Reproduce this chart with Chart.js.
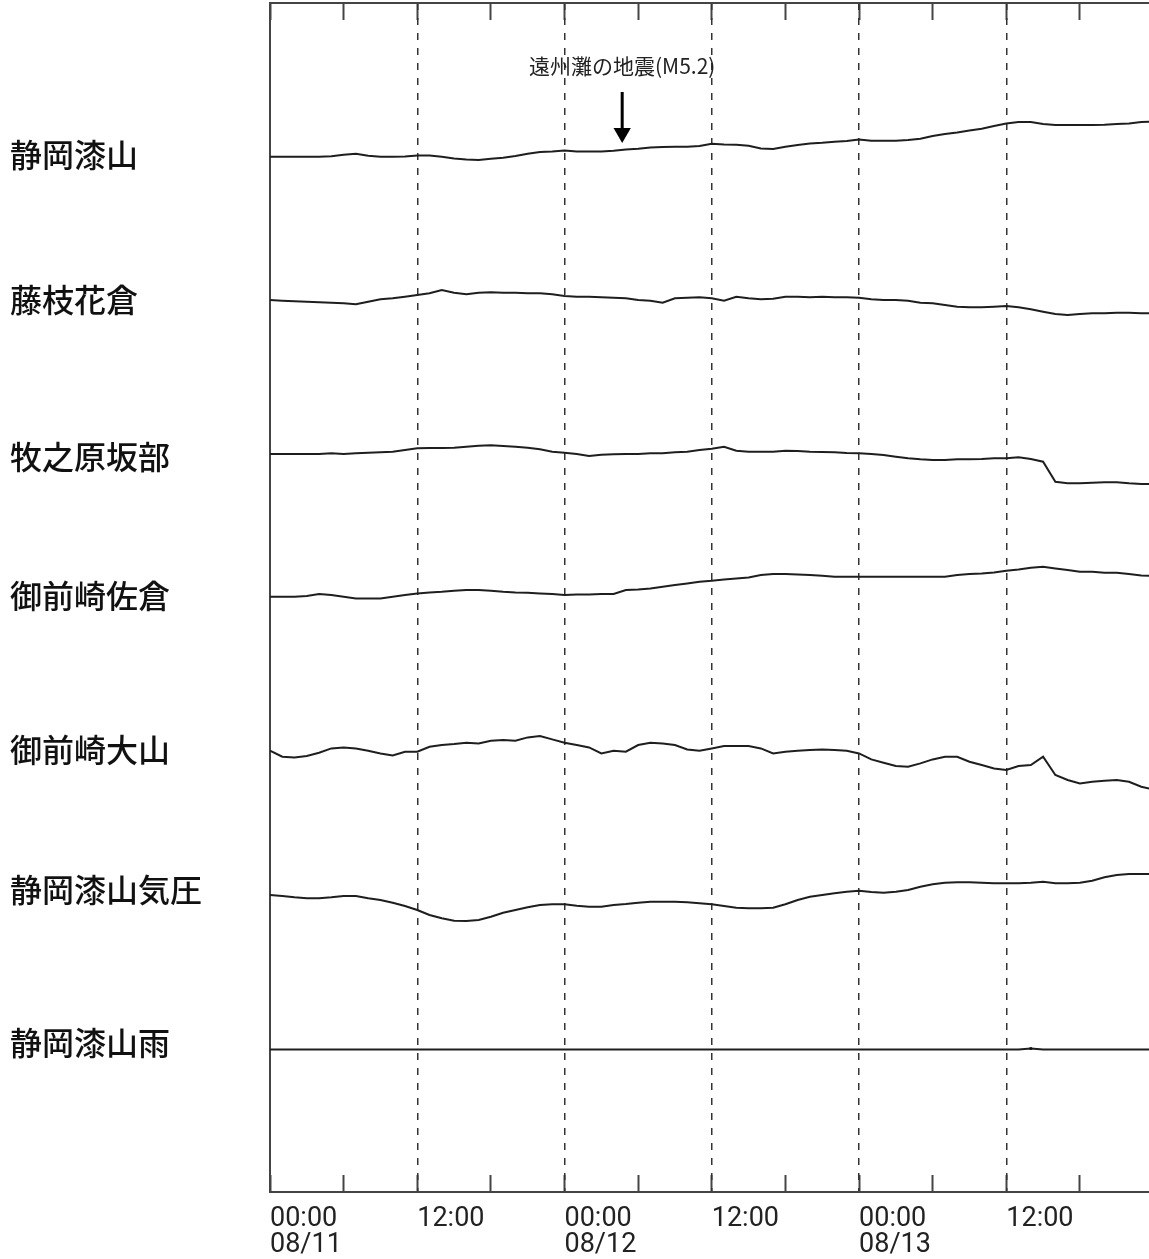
<!DOCTYPE html>
<html lang="ja">
<head>
<meta charset="UTF-8">
<title>ひずみ計 観測波形</title>
<script src="https://cdn.jsdelivr.net/npm/chart.js"></script>
<style>
  html, body { margin: 0; padding: 0; background: #fff; }
  .wrap { position: relative; width: 1149px; height: 1259px; }
</style>
</head>
<body>
<div class="wrap"><canvas id="strain"></canvas></div>
<script>
// hours since 08/11 00:00
const hours = [0,1,2,3,4,5,6,7,8,9,10,11,12,13,14,15,16,17,18,19,20,21,22,23,24,
  25,26,27,28,29,30,31,32,33,34,35,36,37,38,39,40,41,42,43,44,45,46,47,48,
  49,50,51,52,53,54,55,56,57,58,59,60,61,62,63,64,65,66,67,68,69,70,71,72];

const stations = ['静岡漆山', '藤枝花倉', '牧之原坂部', '御前崎佐倉', '御前崎大山', '静岡漆山気圧', '静岡漆山雨'];

// change from start of each trace (up = positive)
const shizuokaUrushiyama = [0,0,0,0,0,0.5,2,3,1,0,0,0.3,1.3,1.3,0,-1.7,-2.7,-3.3,-2,-1,0.7,3,4.7,5.3,6.3,
  5.3,5.3,5.3,6,7.3,8,9.3,9.7,10,10,10.7,13,12.3,12,11,8.3,7.7,10,11.7,13.3,14,15,15.7,17.3,
  16,16,16,16.7,18,20.7,22.7,24.3,26.3,28,30.7,33.3,34.7,34.7,32.7,31.7,31.7,31.7,31.7,32,32.7,33.3,34.7,35];
const fujiedaHanagura = [0,-0.7,-1.3,-1.7,-2.3,-2.7,-3.3,-4.3,-1.7,0.7,1.7,3.3,5,6.7,10,7.3,5.7,7.3,7.7,7.3,7.3,6.7,6.7,5.7,4,
  3.3,3.3,2.7,2.3,1.7,0,-0.7,-2.7,1.7,2.3,2.7,1.7,-0.7,3.3,1.7,0.7,1.3,3.3,3.3,2.7,3.3,2.7,2.7,2.3,
  0.7,0,0,-0.7,-2.7,-3.3,-5,-6.7,-7.3,-7.3,-6.7,-6,-7.3,-9.3,-11.7,-14,-15,-14,-13.3,-13.3,-12.7,-12.7,-13.3,-13.3];
const makinoharaSakabe = [0,0,0,0,0,0.7,0,0.7,1.3,1.7,2.3,4,5.7,6,6,6.3,7.3,8.3,8.7,8,7.3,6.3,4.7,2.3,1.3,
  0,-2,-0.7,-0.3,0,0,0.7,0.7,1.7,2.3,4,5.3,7.3,3.3,2.3,2.3,2.3,3.3,3,2.3,2,1.7,1,0.7,
  0,-1,-2.7,-4.3,-5.3,-6,-6,-5.3,-5.3,-5,-4.3,-4.3,-3.3,-5,-7.7,-27.7,-29.3,-29.3,-28.7,-28.3,-28.3,-29.3,-30,-30];
const omaezakiSakura = [0,0,0,0.7,2.7,1.7,0,-1.7,-1.7,-1.7,0,1.7,3.3,4.3,5,6,6.7,6.7,6,5,4.3,4,3.3,2.7,1.7,
  2.3,2.3,2.7,2.7,6.7,7.3,8.3,10,11.7,13.3,15,16,17.3,18.3,19.3,21.7,22.7,22.7,22.3,21.7,21,20,20,20,
  20,20,20,20,20,20,20,21.7,22.7,23.3,24.3,26,27.3,29,30,28.3,26.7,25,25,24,24,22.7,21.3,20.7];
const omaezakiOyama = [0,-6,-6.7,-5.3,-2,2.3,3.3,2.3,0,-2.7,-4.7,-1,-1,4,5.7,6.7,8,7.3,10,10.7,10,13.3,14.7,11.3,8,
  5.7,3.3,-2.7,0,-1,5.7,8,7.3,5.7,1.3,0,2.3,4.7,4.7,4.7,2.3,-2.7,-1,0,0.7,1.3,0.7,0,-2.7,
  -8.7,-12,-15.3,-16,-12.7,-8.7,-6,-6,-11,-14.3,-17.7,-19.3,-15.3,-14.3,-6,-24.3,-29.3,-32.7,-31,-30,-29.3,-31,-36,-38.7];
const shizuokaPressure = [0,-1,-2.3,-3.3,-3.3,-2.3,-1,-1,-3.3,-5,-7.7,-11,-15,-20,-23.3,-25.7,-26,-25,-21.7,-17.7,-15,-12.3,-10,-9.3,-9.3,
  -10.7,-11.7,-11.7,-10,-9,-7.7,-6.7,-6.7,-6.7,-7.3,-8.3,-9.3,-11,-12.7,-13.3,-13.3,-12.7,-9.3,-5,-1.7,0,1.7,3.3,4.3,
  3,2.3,3.3,5,8.3,10.7,12.3,12.7,12.7,12.3,11.7,11.7,11.7,12.3,13.3,11.7,11.7,12.3,14.3,17.7,20,21,21,21];
const shizuokaRain = [0,0,0,0,0,0,0,0,0,0,0,0,0,0,0,0,0,0,0,0,0,0,0,0,0,
  0,0,0,0,0,0,0,0,0,0,0,0,0,0,0,0,0,0,0,0,0,0,0,0,
  0,0,0,0,0,0,0,0,0,0,0,0,0,0.5,0,0,0,0,0,0,0,0,0,0];

// time axis
const tickHours = [0, 6, 12, 18, 24, 30, 36, 42, 48, 54, 60, 66];
const tickLabels = [['00:00', '08/11'], '', '12:00', '', ['00:00', '08/12'], '', '12:00', '', ['00:00', '08/13'], '', '12:00', ''];
const dashHours = [12, 24, 36, 48, 60];

// earthquake mark
const quakeHour = 28.7;
const quakeText = '遠州灘の地震(M5.2)';

// layout: trace baselines and label heights on the 0..1189 vertical scale
const traces = [shizuokaUrushiyama, fujiedaHanagura, makinoharaSakabe, omaezakiSakura, omaezakiOyama, shizuokaPressure, shizuokaRain];
const baseLevel = [1035.3, 892, 738, 595.3, 441.3, 297, 142.5];
const labelLevel = [1037, 892, 735, 596, 442, 302, 149];
const xMax = 71.63;
const arrowFrom = 1100, arrowTo = 1059, quakeTextLevel = 1126;

const datasets = traces.map((tr, i) => ({
  label: stations[i],
  data: hours.map((h, j) => ({ x: h, y: baseLevel[i] + tr[j] * (i === 6 ? 2 : 1) })),
  borderColor: '#1e1e1e',
  borderWidth: 2,
  pointRadius: i === 6 ? tr.map(v => v > 0 ? 1.8 : 0) : 0,
  pointStyle: 'rect',
  pointBackgroundColor: '#111',
  pointBorderWidth: 0,
  tension: 0
}));

datasets.push({
  label: 'quake',
  data: [{ x: quakeHour, y: arrowFrom }, { x: quakeHour, y: arrowTo }],
  borderColor: '#000',
  borderWidth: 3,
  pointRadius: [0, 10],
  pointStyle: 'triangle',
  rotation: 180,
  pointBackgroundColor: '#000',
  pointBorderWidth: 0
});

const quakeLabel = {
  id: 'quakeLabel',
  afterDatasetsDraw(chart) {
    const { ctx, scales } = chart;
    ctx.save();
    ctx.font = "21px 'Noto Sans CJK JP'";
    ctx.fillStyle = '#222';
    ctx.textAlign = 'center';
    ctx.textBaseline = 'middle';
    ctx.fillText(quakeText, scales.x.getPixelForValue(quakeHour), scales.y.getPixelForValue(quakeTextLevel));
    ctx.restore();
  }
};

const setHourTicks = s => { s.ticks = tickHours.map(v => ({ value: v })); };
const frame = { color: '#444', width: 2 };

new Chart(document.getElementById('strain'), {
  type: 'line',
  data: { datasets },
  plugins: [quakeLabel],
  options: {
    responsive: true,
    maintainAspectRatio: false,
    animation: false,
    layout: { autoPadding: false, padding: { left: 10, top: 0, right: 0, bottom: 0 } },
    plugins: { legend: { display: false }, tooltip: { enabled: false } },
    scales: {
      x: {
        type: 'linear', position: 'bottom', min: 0, max: xMax,
        afterBuildTicks: setHourTicks,
        afterFit: s => { s.height = 67; s.paddingLeft = 0; s.paddingRight = 0; },
        ticks: {
          autoSkip: false, maxRotation: 0, minRotation: 0, align: 'start', padding: 31,
          color: '#222', font: { family: 'Roboto', size: 27, lineHeight: 0.97 },
          callback: (v, i) => tickLabels[i]
        },
        grid: { drawOnChartArea: false, drawTicks: true, tickLength: -17, tickWidth: 2, tickColor: '#444' },
        border: frame
      },
      xTop: {
        type: 'linear', position: 'top', min: 0, max: xMax,
        afterBuildTicks: setHourTicks,
        afterFit: s => { s.height = 3; s.paddingLeft = 0; s.paddingRight = 0; },
        ticks: { display: false },
        grid: { drawOnChartArea: false, drawTicks: true, tickLength: -17, tickWidth: 2, tickColor: '#444' },
        border: frame
      },
      xDash: {
        type: 'linear', position: 'bottom', min: 0, max: xMax,
        afterBuildTicks: s => { s.ticks = dashHours.map(v => ({ value: v })); },
        afterFit: s => { s.height = 0; s.paddingLeft = 0; s.paddingRight = 0; },
        ticks: { display: false },
        grid: { drawOnChartArea: true, drawTicks: false, color: '#333', lineWidth: 1.5 },
        border: { display: false, dash: [7, 8] }
      },
      y: {
        type: 'linear', position: 'left', min: 0, max: 1189,
        afterBuildTicks: s => { s.ticks = labelLevel.map(v => ({ value: v })).sort((a, b) => a.value - b.value); },
        afterFit: s => { s.width = 260; s.paddingTop = 0; s.paddingBottom = 0; },
        ticks: {
          autoSkip: false, crossAlign: 'far', color: '#111',
          font: { family: "'Noto Sans CJK JP'", size: 32, weight: 500 },
          callback: v => stations[labelLevel.indexOf(v)]
        },
        grid: { drawOnChartArea: false, drawTicks: false },
        border: frame
      }
    }
  }
});
</script>
</body>
</html>
